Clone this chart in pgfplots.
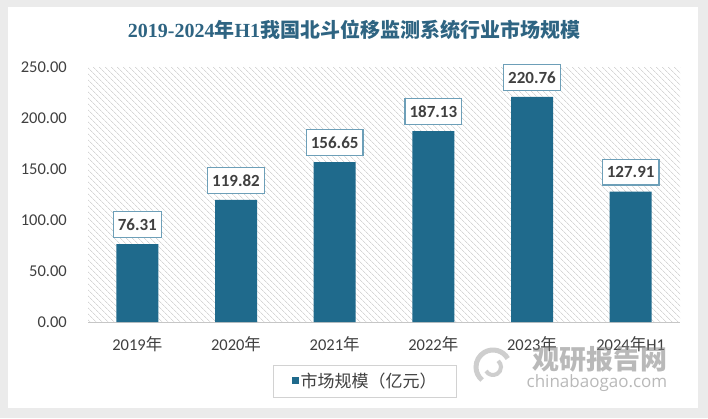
\documentclass[border=0pt]{standalone}
\usepackage{pgfplots}
\pgfplotsset{compat=1.18}
\usepackage{fontspec}
\setmainfont{Carlito}
\newfontfamily\cjk{Noto Sans CJK SC}
\newfontfamily\titleserif{Liberation Serif}
\newfontfamily\wmfont{Open Sans}
\usetikzlibrary{patterns.meta}
\definecolor{barblue}{HTML}{1F6A8C}
\definecolor{titleblue}{HTML}{2E6482}
\definecolor{lblborder}{HTML}{6D9FB8}
\definecolor{txtgray}{HTML}{404040}
\definecolor{bggray}{HTML}{EBEBEB}
\definecolor{hatch}{HTML}{D6D6D6}
\begin{document}
\begin{tikzpicture}
\fill[bggray] (0,0) rectangle (708pt,418pt);
\fill[white] (8pt,10pt) rectangle (698pt,411pt);
\node[text=titleblue, font=\fontsize{20}{24}\selectfont\bfseries] at (354pt,388pt) {\titleserif 2019-2024{\cjk 年}H1{\cjk 我国北斗位移监测系统行业市场规模}};
\begin{axis}[
  at={(88pt,96pt)}, anchor=south west,
  scale only axis, width=592pt, height=255pt,
  xmin=-0.5, xmax=5.5, ymin=0, ymax=250,
  bar width=42pt,
  axis background/.style={pattern={Lines[angle=-45,distance=4pt,line width=0.8pt]}, pattern color=hatch},
  axis x line*=bottom, axis y line*=left,
  x axis line style={draw=gray!45, line width=0.8pt},
  y axis line style={draw=none},
  major tick length=0pt,
  ytick={0,50,100,150,200,250},
  xtick={0,1,2,3,4,5},
  xticklabels={2019{\cjk 年},2020{\cjk 年},2021{\cjk 年},2022{\cjk 年},2023{\cjk 年},2024{\cjk 年}H1},
  yticklabel style={anchor=east, inner sep=0pt, xshift=-21pt, font=\fontsize{16.5}{18}\selectfont, text=txtgray},
  xticklabel style={anchor=north, inner sep=0pt, yshift=-14pt, font=\fontsize{16.5}{18}\selectfont, text=txtgray},
  /pgf/number format/fixed,
  /pgf/number format/fixed zerofill,
  /pgf/number format/precision=2,
  /pgf/number format/assume math mode=true,
  nodes near coords,
  nodes near coords style={font=\fontsize{17}{20}\selectfont\bfseries, text=txtgray, draw=lblborder, line width=1.2pt, fill=white, inner xsep=4.5pt, inner ysep=7pt, yshift=6pt},
  legend style={at={(0.468,-0.231)}, anchor=center, draw=gray!35, inner xsep=18pt, inner ysep=6pt, font=\fontsize{17}{19}\selectfont, text=txtgray},
]
\addplot[ybar, fill=barblue, draw=none, legend image code/.code={\fill[barblue] (0pt,-3.5pt) rectangle (7pt,3.5pt);}] coordinates {(0,76.31) (1,119.82) (2,156.65) (3,187.13) (4,220.76) (5,127.91)};
\addlegendentry{\cjk 市场规模（亿元）}
\end{axis}
\begin{scope}[opacity=0.55]
\draw[gray!70, line width=5pt] (493pt,51pt) ++(30:17pt) arc (30:230:17pt);
\draw[gray!70, line width=4pt] (493pt,51pt) ++(210:8pt) arc (210:410:8pt);
\node[text=gray, font=\fontsize{27}{30}\selectfont\cjk\bfseries] at (600pt,59pt) {观研报告网};
\node[text=gray, font=\fontsize{17}{20}\selectfont\wmfont] at (597pt,35pt) {chinabaogao.com};
\end{scope}
\end{tikzpicture}
\end{document}
